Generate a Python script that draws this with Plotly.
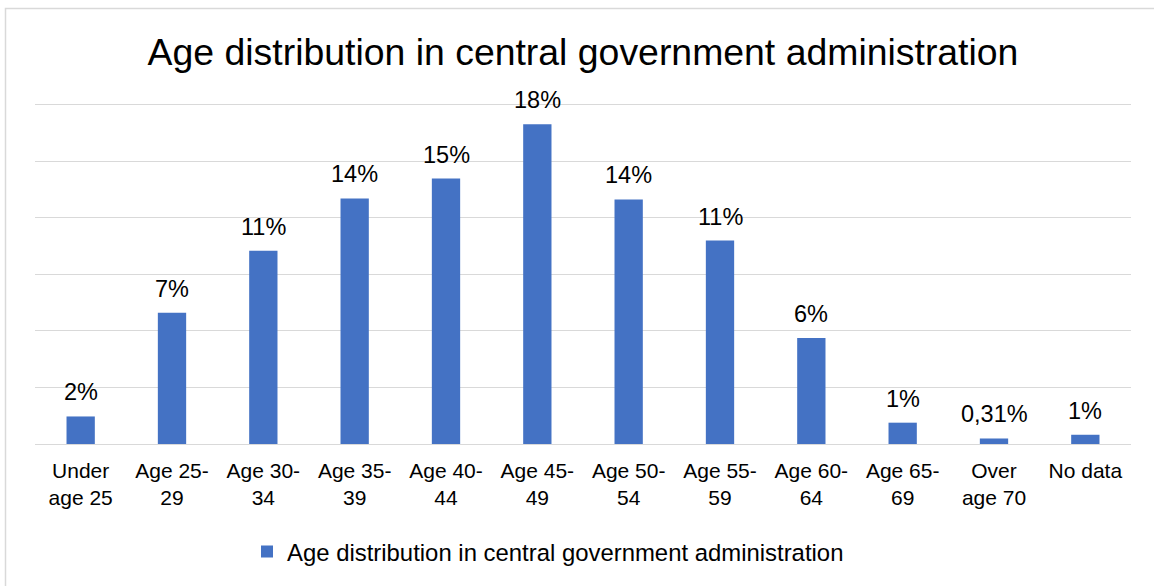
import plotly.graph_objects as go

# Share of staff by age group (fractions of total headcount)
categories = [
    "Under<br>age 25", "Age 25-<br>29", "Age 30-<br>34", "Age 35-<br>39",
    "Age 40-<br>44", "Age 45-<br>49", "Age 50-<br>54", "Age 55-<br>59",
    "Age 60-<br>64", "Age 65-<br>69", "Over<br>age 70", "No data",
]
shares = [0.0155, 0.0739, 0.1088, 0.1382, 0.1494, 0.1800,
          0.1376, 0.1145, 0.0597, 0.0120, 0.0031, 0.0052]
series_name = "Age distribution in central government administration"


def pct_label(v):
    # whole percent, but keep two decimals (comma separator) for tiny shares
    if v < 0.005:
        return f"{v * 100:.2f}%".replace(".", ",")
    return f"{round(v * 100)}%"


labels = [pct_label(v) for v in shares]

BAR = "#4472C4"
GRID = "#D9D9D9"
FONT = "Liberation Sans, Arial, sans-serif"

W, H = 1154, 586
L, R, T, B = 35, 23, 103, 142
PW, PH = W - L - R, H - T - B

step = 0.0318
ymax = step * 6 + 0.0011   # a little headroom so the top gridline is drawn

fig = go.Figure()
fig.add_trace(go.Bar(
    x=categories, y=shares, name=series_name,
    marker=dict(color=BAR, line=dict(width=0)),
    showlegend=True,
))

for c, v, t in zip(categories, shares, labels):
    fig.add_annotation(
        x=c, y=v, text=t, showarrow=False, xref="x", yref="y",
        yanchor="bottom", yshift=9,
        font=dict(family=FONT, size=23.5, color="#000000"),
    )


def px_x(p):
    return (p - L) / PW


def px_y(p):
    return (H - B - p) / PH


# chart frame (runs off the right and bottom edges)
fig.add_shape(type="rect", xref="paper", yref="paper",
              x0=px_x(5.5), x1=px_x(1200), y0=px_y(8.5), y1=px_y(640),
              line=dict(color=GRID, width=1.5), fillcolor="rgba(0,0,0,0)",
              layer="below")

fig.update_layout(
    width=W, height=H,
    margin=dict(l=L, r=R, t=T, b=B),
    paper_bgcolor="white", plot_bgcolor="white",
    font=dict(family=FONT, color="#000000"),
    title=dict(text="Age distribution in central government administration",
               x=0.5, xref="paper", xanchor="center",
               y=1 - 52 / H, yref="container", yanchor="middle",
               font=dict(family=FONT, size=37.4, color="#000000")),
    bargap=0.69,
    showlegend=True,
    legend=dict(orientation="h", x=px_x(247), xanchor="left",
                y=px_y(552), yanchor="middle",
                font=dict(family=FONT, size=23.9, color="#000000"),
                bgcolor="rgba(0,0,0,0)"),
    xaxis=dict(showgrid=False, showline=False, zeroline=False, ticks="",
               tickfont=dict(family=FONT, size=21, color="#000000"),
               ticklabelstandoff=12,
               automargin=False, tickangle=0),
    yaxis=dict(range=[0, ymax], tickvals=[step * k for k in range(7)],
               showticklabels=False, showgrid=True, gridcolor=GRID, gridwidth=1,
               zeroline=True, zerolinecolor=GRID, zerolinewidth=1,
               showline=False, automargin=False),
)

fig.write_html("out.html")
